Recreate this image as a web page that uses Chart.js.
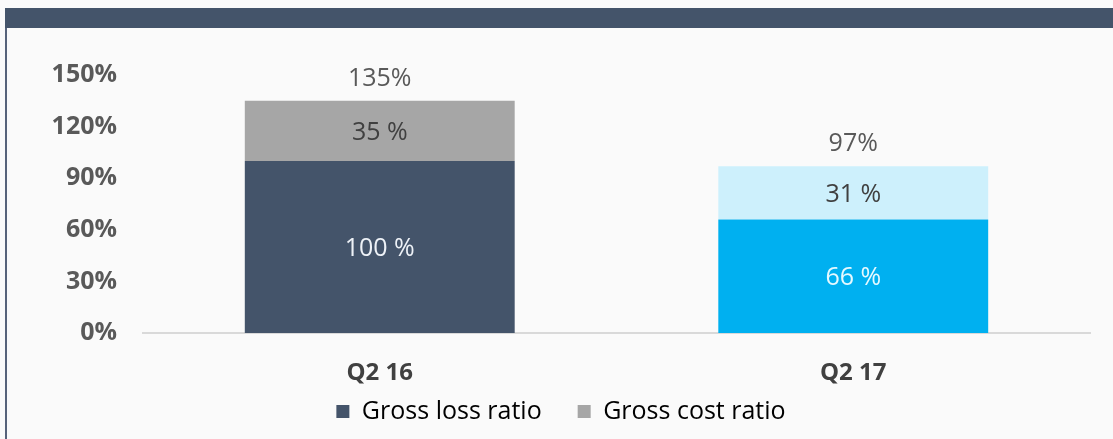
<!DOCTYPE html>
<html>
<head>
<meta charset="utf-8">
<script src="https://cdn.jsdelivr.net/npm/chart.js@4"></script>
<style>
  html, body { margin: 0; padding: 0; background: #fafafa; }
  body { width: 1113px; height: 439px; position: relative; overflow: hidden; }
  #band { position: absolute; left: 5px; top: 8px; right: 0; height: 20px; background: #44546A; }
  #vline { position: absolute; left: 5px; top: 28px; width: 2px; bottom: 0; background: #56627a; }
  #wrap { position: absolute; left: 0; top: 0; width: 1113px; height: 439px; }
</style>
</head>
<body>
<div id="band"></div>
<div id="vline"></div>
<div id="wrap"><canvas id="c" width="1113" height="439"></canvas></div>
<script>
const categories = ['Q2 16', 'Q2 17'];
const grossLossRatio = [100, 66];
const grossCostRatio = [35, 31];
const totalRatio = [135, 97];
const yTickValues = [0, 30, 60, 90, 120, 150];

const lossColors = ['#44546A', '#00B0F0'];
const costColors = ['#A6A6A6', '#CDF0FC'];
const lossLabelColors = ['#EEF2F7', '#E6F9FF'];
const costLabelColors = ['#404040', '#404040'];

const FONT = '"Open Sans", "Noto Sans", sans-serif';

const labelPlugin = {
  id: 'barLabels',
  afterDatasetsDraw(chart) {
    const ctx = chart.ctx;
    ctx.save();
    ctx.font = '25px ' + FONT;
    ctx.textAlign = 'center';
    ctx.textBaseline = 'middle';
    const colorSets = [lossLabelColors, costLabelColors];
    chart.data.datasets.forEach((ds, di) => {
      const meta = chart.getDatasetMeta(di);
      meta.data.forEach((el, i) => {
        const p = el.getProps(['x', 'y', 'base'], true);
        ctx.fillStyle = colorSets[di][i];
        ctx.fillText(ds.data[i] + ' %', p.x, (p.y + p.base) / 2 + 2);
      });
    });
    const topMeta = chart.getDatasetMeta(chart.data.datasets.length - 1);
    topMeta.data.forEach((el, i) => {
      const p = el.getProps(['x', 'y'], true);
      ctx.fillStyle = '#595959';
      ctx.fillText(totalRatio[i] + '%', p.x, p.y - 22);
    });
    ctx.restore();
  }
};

new Chart(document.getElementById('c'), {
  type: 'bar',
  data: {
    labels: categories,
    datasets: [
      { label: 'Gross loss ratio', data: grossLossRatio, backgroundColor: lossColors, borderWidth: 0 },
      { label: 'Gross cost ratio', data: grossCostRatio, backgroundColor: costColors, borderWidth: 0 }
    ]
  },
  options: {
    responsive: false,
    animation: false,
    devicePixelRatio: 1,
    layout: { padding: { left: 32, right: 23, top: 75, bottom: 5 } },
    datasets: { bar: { categoryPercentage: 1, barPercentage: 0.57 } },
    plugins: {
      tooltip: { enabled: false },
      legend: {
        position: 'bottom',
        labels: {
          boxWidth: 13,
          boxHeight: 13,
          padding: 36,
          color: '#595959',
          font: { family: FONT, size: 25 },
          generateLabels(chart) {
            return chart.data.datasets.map((ds, i) => ({
              text: ds.label,
              fillStyle: [lossColors[0], costColors[0]][i],
              strokeStyle: 'transparent',
              lineWidth: 0,
              hidden: false,
              datasetIndex: i
            }));
          }
        }
      }
    },
    scales: {
      x: {
        stacked: true,
        grid: { display: false, drawTicks: false },
        border: { display: true, color: '#D9D9D9', width: 2 },
        ticks: { color: '#404040', mirror: true, padding: -55, font: { family: FONT, size: 24, weight: 'bold' } },
        afterFit(axis) { axis.height = 30; }
      },
      y: {
        stacked: true,
        min: 0,
        max: 150,
        afterBuildTicks(axis) { axis.ticks = yTickValues.map(v => ({ value: v })); },
        grid: { display: false, drawTicks: false },
        border: { display: false },
        ticks: {
          color: '#595959',
          padding: 26,
          font: { family: FONT, size: 25, weight: 'bold' },
          callback: v => v + '%'
        },
        afterFit(axis) { axis.width = 111; }
      }
    }
  },
  plugins: [labelPlugin]
});
</script>
</body>
</html>
